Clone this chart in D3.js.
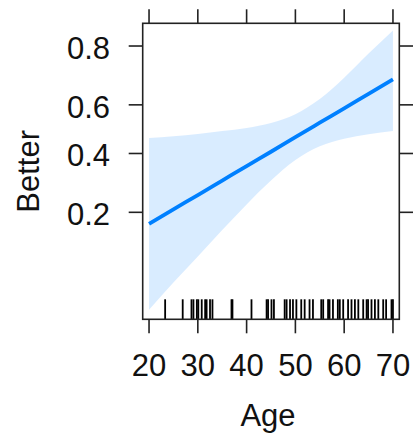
<!DOCTYPE html>
<html>
<head>
<meta charset="utf-8">
<script src="https://cdn.jsdelivr.net/npm/d3@7"></script>
<style>
  html, body { margin: 0; padding: 0; background: #fff; }
  svg { display: block; }
  text { font-family: "Liberation Sans", Arial, sans-serif; fill: #111; }
</style>
</head>
<body>
<svg id="chart" width="413" height="439"></svg>
<script>
// effect of Age on P(Better), logit scale
const ages = [20, 25, 30, 35, 40, 45, 50, 55, 60, 65, 70];
const fitValues   = [0.171, 0.208, 0.250, 0.298, 0.351, 0.407, 0.467, 0.527, 0.586, 0.643, 0.696];
const upperValues = [0.463, 0.471, 0.480, 0.492, 0.505, 0.526, 0.562, 0.623, 0.702, 0.779, 0.838];
const lowerValues = [0.047, 0.072, 0.107, 0.157, 0.222, 0.298, 0.374, 0.429, 0.460, 0.479, 0.492];

const rugAges = [23.3, 26.9, 28.7, 29.1, 29.8, 30.1, 30.8, 31.5, 31.8, 32.5, 33, 36.9, 37.1,
  41, 44.1, 44.4, 45.1, 45.6, 47.8, 48.2, 48.9, 49.5, 50.2, 51.2, 51.9, 52.9, 53.6, 55.3,
  55.7, 56.7, 57, 57.7, 58.7, 59.1, 59.8, 60.8, 61.5, 62.2, 62.9, 63.9, 64.6, 64.9, 65.6,
  66.3, 67, 68, 68.6, 69.7, 70];

const xTicks = [20, 30, 40, 50, 60, 70];
const yTicks = [0.2, 0.4, 0.6, 0.8];

const svg = d3.select('#chart');
const fontSize = 31;
const tickLen = 14;
const panel = { left: 142.7, right: 399.3, top: 23.3, bottom: 319.3 };

const logit = p => Math.log(p / (1 - p));

const x = d3.scaleLinear().domain([18.7, 71.3]).range([panel.left, panel.right]);
const yLin = d3.scaleLinear().domain([-3.17, 1.765]).range([panel.bottom, panel.top]);
const y = p => yLin(logit(p));

const rows = ages.map((a, i) => ({ age: a, fit: fitValues[i], lo: lowerValues[i], hi: upperValues[i] }));

const g = svg.append('g');

// confidence band
const area = d3.area()
  .x(d => x(d.age))
  .y0(d => y(d.lo))
  .y1(d => y(d.hi))
  .curve(d3.curveMonotoneX);

g.append('path')
  .datum(rows)
  .attr('d', area)
  .attr('fill', '#0080ff')
  .attr('fill-opacity', 0.15);

// fitted line
const line = d3.line()
  .x(d => x(d.age))
  .y(d => y(d.fit))
  .curve(d3.curveMonotoneX);

g.append('path')
  .datum(rows)
  .attr('d', line)
  .attr('fill', 'none')
  .attr('stroke', '#0080ff')
  .attr('stroke-width', 3.8);

// rug
g.selectAll('.rug')
  .data(rugAges)
  .enter()
  .append('line')
  .attr('class', 'rug')
  .attr('x1', d => x(d)).attr('x2', d => x(d))
  .attr('y1', panel.bottom - 20).attr('y2', panel.bottom)
  .attr('stroke', '#000')
  .attr('stroke-width', 1.8);

// panel box
g.append('rect')
  .attr('x', panel.left).attr('y', panel.top)
  .attr('width', panel.right - panel.left)
  .attr('height', panel.bottom - panel.top)
  .attr('fill', 'none')
  .attr('stroke', '#222')
  .attr('stroke-width', 1.6);

// ticks on all four sides
const axisStroke = sel => sel.attr('stroke', '#222').attr('stroke-width', 1.6);

g.selectAll('.xtick-b').data(xTicks).enter().append('line')
  .attr('x1', d => x(d)).attr('x2', d => x(d))
  .attr('y1', panel.bottom).attr('y2', panel.bottom + tickLen)
  .call(axisStroke);

g.selectAll('.xtick-t').data(xTicks).enter().append('line')
  .attr('x1', d => x(d)).attr('x2', d => x(d))
  .attr('y1', panel.top).attr('y2', panel.top - tickLen)
  .call(axisStroke);

g.selectAll('.ytick-l').data(yTicks).enter().append('line')
  .attr('x1', panel.left - tickLen).attr('x2', panel.left)
  .attr('y1', d => y(d)).attr('y2', d => y(d))
  .call(axisStroke);

g.selectAll('.ytick-r').data(yTicks).enter().append('line')
  .attr('x1', panel.right).attr('x2', panel.right + tickLen)
  .attr('y1', d => y(d)).attr('y2', d => y(d))
  .call(axisStroke);

// tick labels
g.selectAll('.xlab').data(xTicks).enter().append('text')
  .attr('x', d => x(d))
  .attr('y', 376)
  .attr('text-anchor', 'middle')
  .attr('font-size', fontSize)
  .text(d => d);

g.selectAll('.ylab').data(yTicks).enter().append('text')
  .attr('x', 110)
  .attr('y', d => y(d) + 13)
  .attr('text-anchor', 'end')
  .attr('font-size', fontSize)
  .text(d => d.toFixed(1));

// axis titles
g.append('text')
  .attr('x', 268)
  .attr('y', 426)
  .attr('text-anchor', 'middle')
  .attr('font-size', fontSize)
  .text('Age');

g.append('text')
  .attr('transform', `translate(39, ${(panel.top + panel.bottom) / 2}) rotate(-90)`)
  .attr('text-anchor', 'middle')
  .attr('font-size', fontSize)
  .text('Better');
</script>
</body>
</html>
